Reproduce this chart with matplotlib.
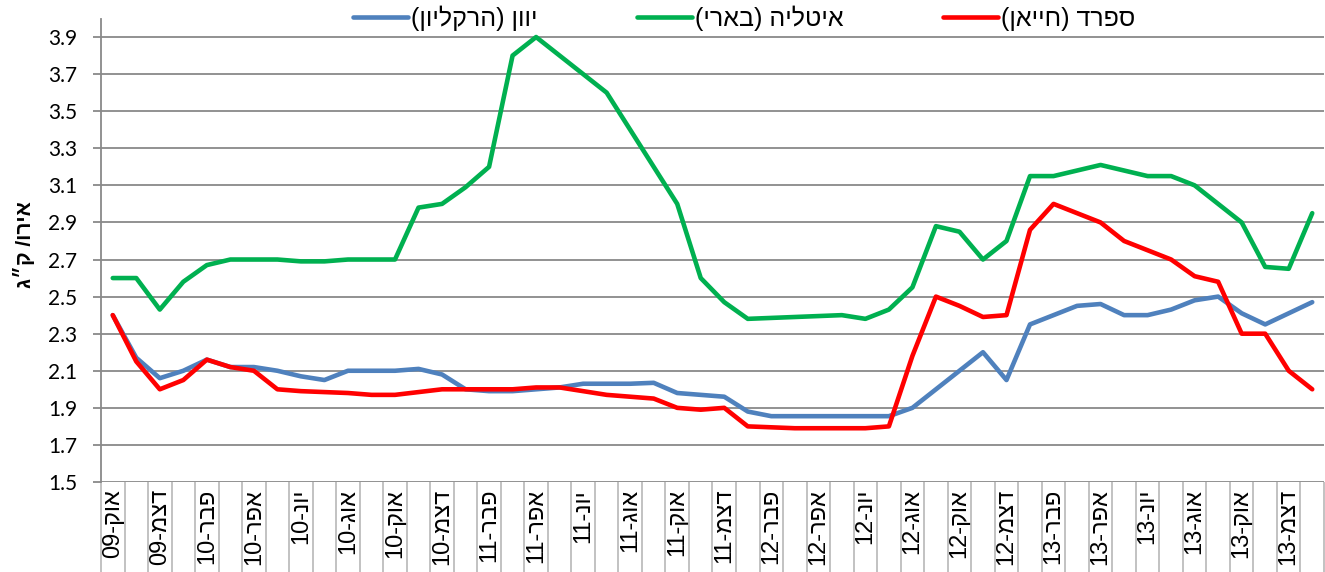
import numpy as np
import matplotlib
matplotlib.use("Agg")
import matplotlib.pyplot as plt

# monthly prices, Oct-09 .. Jan-14
months_he = ["אוק", "נוב", "דצמ", "ינו", "פבר", "מרץ", "אפר", "מאי", "יונ", "יול", "אוג", "ספט"]
start_year = 9

greece = [2.40, 2.17, 2.06, 2.10, 2.16, 2.12, 2.12, 2.10, 2.07, 2.05,
          2.10, 2.10, 2.10, 2.11, 2.08, 2.00, 1.99, 1.99, 2.00, 2.01,
          2.03, 2.03, 2.03, 2.035, 1.98, 1.97, 1.96, 1.88, 1.855, 1.855,
          1.855, 1.855, 1.855, 1.855, 1.90, 2.00, 2.10, 2.20, 2.05, 2.35,
          2.40, 2.45, 2.46, 2.40, 2.40, 2.43, 2.48, 2.50, 2.41, 2.35,
          2.41, 2.47]
italy = [2.60, 2.60, 2.43, 2.58, 2.67, 2.70, 2.70, 2.70, 2.69, 2.69,
         2.70, 2.70, 2.70, 2.98, 3.00, 3.09, 3.20, 3.80, 3.90, 3.80,
         3.70, 3.60, 3.40, 3.20, 3.00, 2.60, 2.47, 2.38, 2.385, 2.39,
         2.395, 2.40, 2.38, 2.43, 2.55, 2.88, 2.85, 2.70, 2.80, 3.15,
         3.15, 3.18, 3.21, 3.18, 3.15, 3.15, 3.10, 3.00, 2.90, 2.66,
         2.65, 2.95]
spain = [2.40, 2.15, 2.00, 2.05, 2.16, 2.12, 2.10, 2.00, 1.99, 1.985,
         1.98, 1.97, 1.97, 1.985, 2.00, 2.00, 2.00, 2.00, 2.01, 2.01,
         1.99, 1.97, 1.96, 1.95, 1.90, 1.89, 1.90, 1.80, 1.795, 1.79,
         1.79, 1.79, 1.79, 1.80, 2.18, 2.50, 2.45, 2.39, 2.40, 2.86,
         3.00, 2.95, 2.90, 2.80, 2.75, 2.70, 2.61, 2.58, 2.30, 2.30,
         2.10, 2.00]

series_names = ["יוון (הרקליון)", "איטליה (בארי)", "ספרד (חייאן)"]
series_colors = ["#4F81BD", "#00B050", "#FF0000"]
y_label = "אירו/ ק״ג"


def visual(s):
    # matplotlib has no bidi: reverse Hebrew to visual order, mirror brackets
    return s[::-1].translate(str.maketrans("()", ")("))


n = len(greece)
x = np.arange(n)
labels = []
for i in range(n):
    m = i % 12
    yy = start_year + (i + 9) // 12
    labels.append(f"{yy:02d}-" + visual(months_he[m]))

HEB = ["Liberation Sans", "DejaVu Sans"]
GRID = "#898989"

fig = plt.figure(figsize=(13.25, 5.72), dpi=100)
ax = fig.add_axes([101 / 1325, 90 / 572, 1223 / 1325, (572 - 90 - 18.5) / 572])

for vals, c in zip([greece, italy, spain], series_colors):
    ax.plot(x, vals, color=c, lw=3.3, solid_joinstyle="round", solid_capstyle="round", zorder=3)

ax.set_xlim(-0.5, n - 0.5)
ax.set_ylim(1.5, 4.0)
ax.set_yticks(np.arange(1.5, 3.95, 0.2))
ax.set_yticklabels([f"{v:.1f}" for v in np.arange(1.5, 3.95, 0.2)], family=["Lato", "DejaVu Sans"], fontsize=15)
ax.yaxis.grid(True, color=GRID, lw=1.3)
ax.tick_params(axis="y", length=6, width=1.3, color=GRID, pad=11)

ax.set_xticks(x[::2])
ax.set_xticklabels(labels[::2], rotation=90, family=HEB, fontsize=17)
ax.set_xticks(np.arange(-0.5, n, 1), minor=True)
ax.tick_params(axis="x", which="major", length=0, pad=5)
ax.tick_params(axis="x", which="minor", length=66, width=1.3, color="#bdbdbd")

for s in ["top", "right", "bottom"]:
    ax.spines[s].set_visible(False)
ax.spines["left"].set_color(GRID)
ax.spines["left"].set_linewidth(1.3)

fig.text(0.018, (572 - 245) / 572, visual(y_label), rotation=90, family=HEB,
         fontsize=15, fontweight="bold", ha="center", va="center")

handles = [plt.Line2D([], [], color=c, lw=3.3, solid_capstyle="round") for c in series_colors]
fig.legend(handles, [visual(s) for s in series_names], ncol=3, loc="center",
           bbox_to_anchor=(744 / 1325, 1 - 18 / 572), frameon=False,
           prop={"family": HEB, "size": 18}, handlelength=2.2, handletextpad=0.1,
           columnspacing=4.0)

fig.savefig("out.png", dpi=100)
